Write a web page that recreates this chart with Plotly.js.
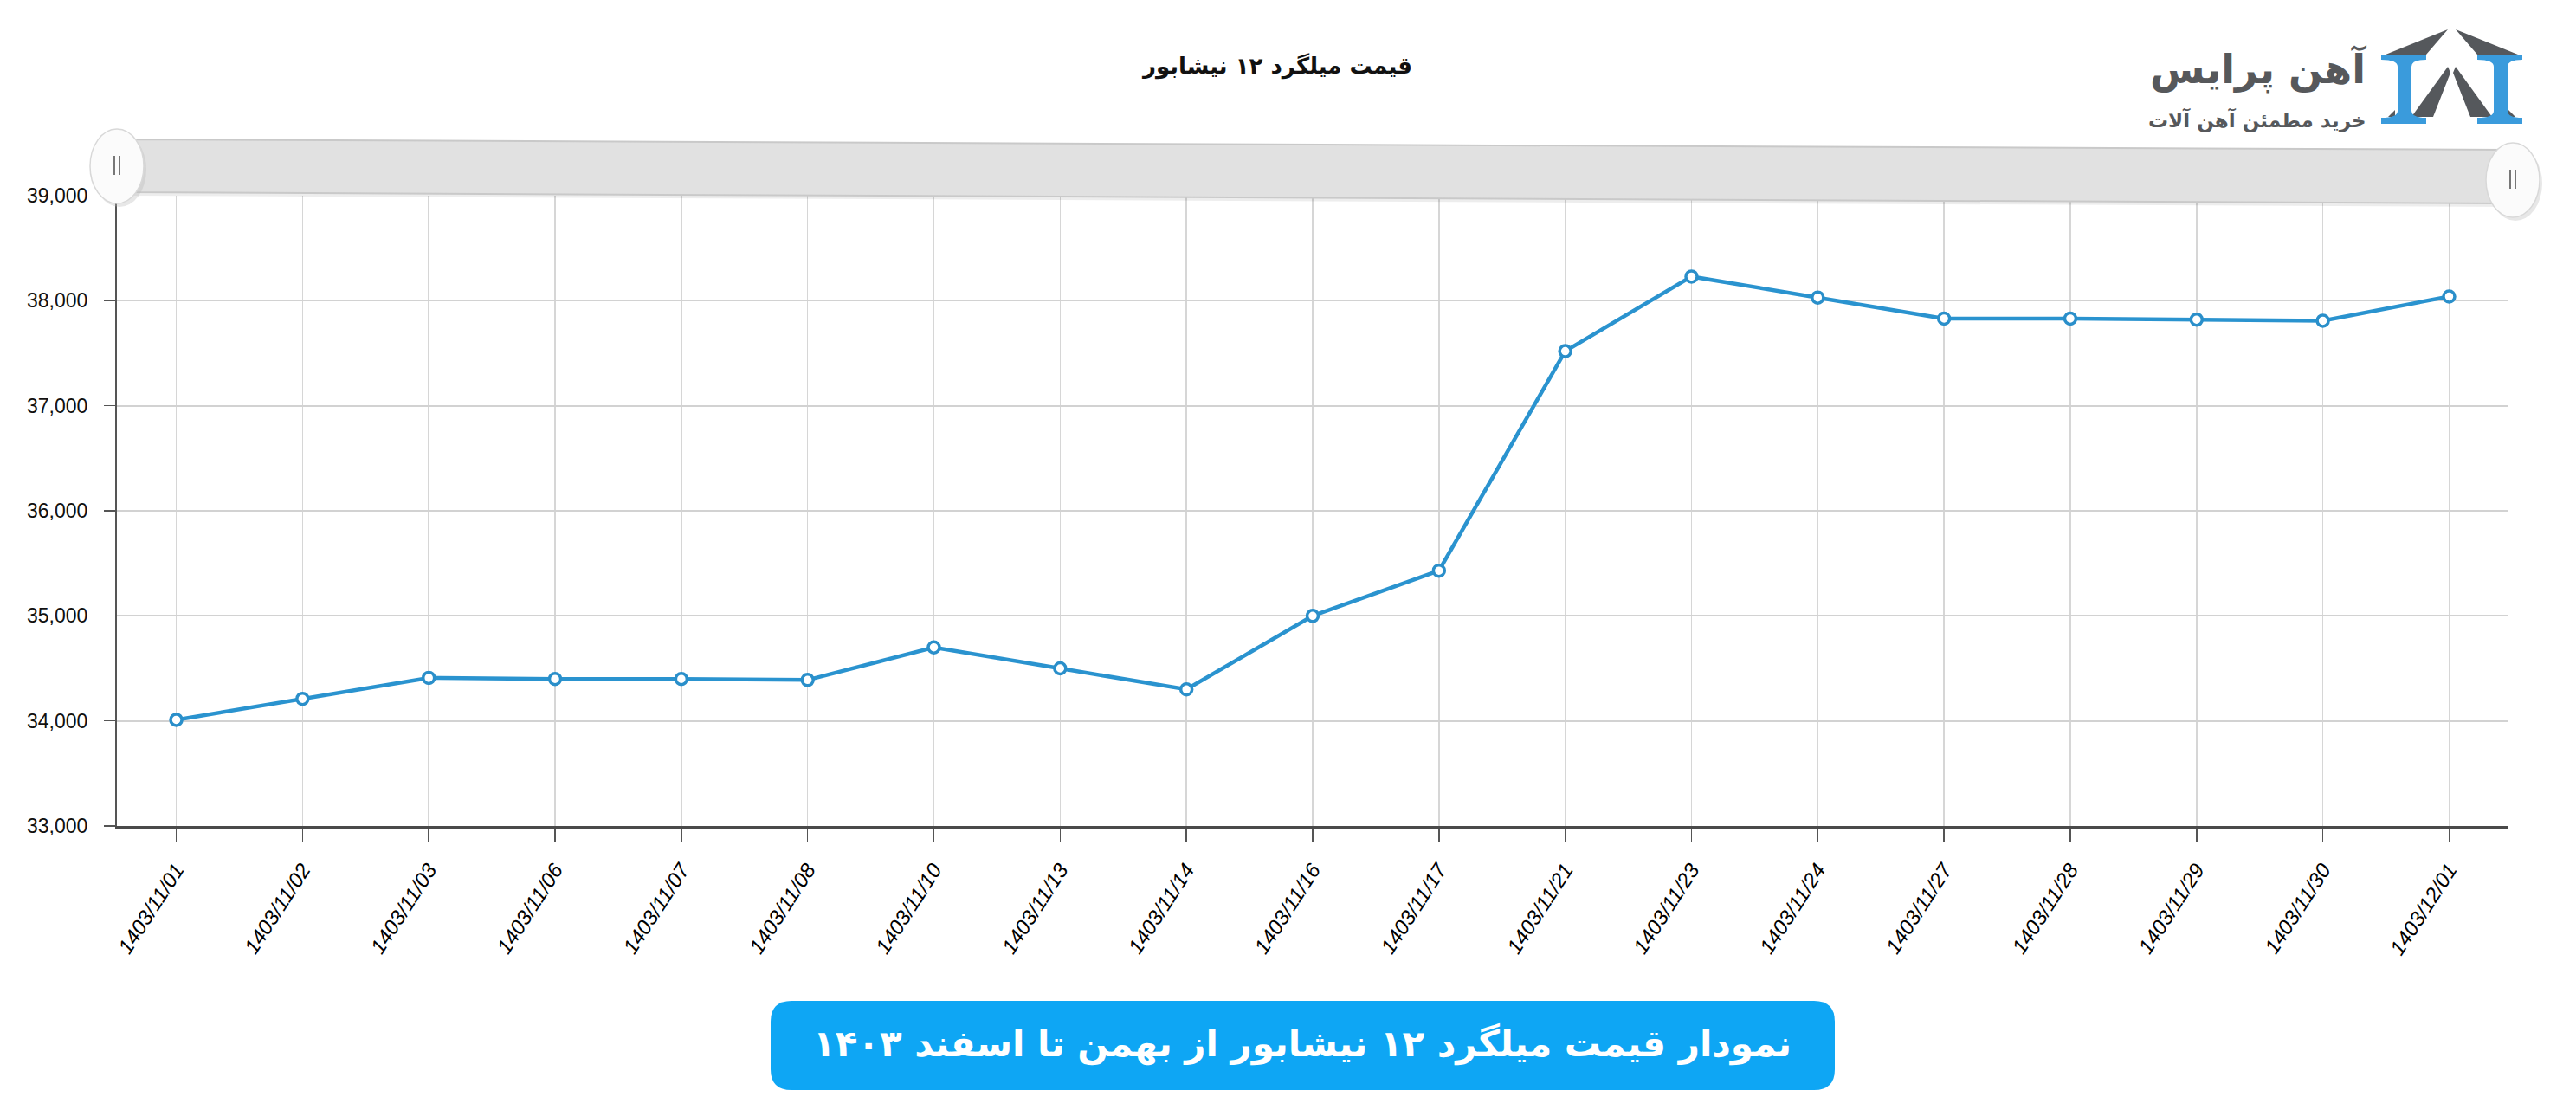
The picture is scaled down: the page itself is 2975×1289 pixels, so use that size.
<!DOCTYPE html>
<html>
<head>
<meta charset="utf-8">
<script src="https://cdn.plot.ly/plotly-3.0.1.min.js"></script>
<style>
html,body{margin:0;padding:0;background:#fff;}
#chart{width:2975px;height:1289px;}
</style>
</head>
<body>
<div id="chart"></div>
<script>
// ---- data ----
const dates = ['1403/11/01','1403/11/02','1403/11/03','1403/11/06','1403/11/07','1403/11/08','1403/11/10','1403/11/13','1403/11/14','1403/11/16','1403/11/17','1403/11/21','1403/11/23','1403/11/24','1403/11/27','1403/11/28','1403/11/29','1403/11/30','1403/12/01'];
const prices = [34010, 34210, 34410, 34400, 34400, 34390, 34700, 34500, 34300, 35000, 35430, 37520, 38230, 38030, 37830, 37830, 37820, 37810, 38040];
const yTicks = [33000, 34000, 35000, 36000, 37000, 38000, 39000];

const chartTitle = 'قیمت میلگرد ۱۲ نیشابور';
const bannerText = 'نمودار قیمت میلگرد ۱۲ نیشابور از بهمن تا اسفند ۱۴۰۳';
const brandName = 'آهن پرایس';
const brandSlogan = 'خرید مطمئن آهن آلات';

// ---- layout geometry (pixels) ----
const WIDTH = 2975, HEIGHT = 1289;
const M = {l: 135, r: 78, t: 226, b: 335};
const PW = WIDTH - M.l - M.r, PH = HEIGHT - M.t - M.b;
const px = x => (x - M.l) / PW;
const py = y => 1 - (y - M.t) / PH;
function path(points) {
  return points.map((p, i) => (i ? 'L' : 'M') + px(p[0]).toFixed(5) + ',' + py(p[1]).toFixed(5)).join(' ') + ' Z';
}
function ellipse(cx, cy, rx, ry, fill, line, lw, opacity) {
  return {type: 'circle', xref: 'paper', yref: 'paper', x0: px(cx - rx), x1: px(cx + rx), y0: py(cy + ry), y1: py(cy - ry),
    fillcolor: fill, line: {color: line, width: lw}, opacity: opacity === undefined ? 1 : opacity, layer: 'above'};
}
function seg(x0, y0, x1, y1, color, w) {
  return {type: 'line', xref: 'paper', yref: 'paper', x0: px(x0), y0: py(y0), x1: px(x1), y1: py(y1), line: {color: color, width: w}, layer: 'above'};
}
function roundRect(x0, y0, x1, y1, r) {
  const P = (x, y) => px(x).toFixed(5) + ',' + py(y).toFixed(5);
  return 'M' + P(x0 + r, y0) + ' L' + P(x1 - r, y0) + ' Q' + P(x1, y0) + ' ' + P(x1, y0 + r) +
    ' L' + P(x1, y1 - r) + ' Q' + P(x1, y1) + ' ' + P(x1 - r, y1) +
    ' L' + P(x0 + r, y1) + ' Q' + P(x0, y1) + ' ' + P(x0, y1 - r) +
    ' L' + P(x0, y0 + r) + ' Q' + P(x0, y0) + ' ' + P(x0 + r, y0) + ' Z';
}
function ibeam(xl) {
  const P = (x, y) => px(x).toFixed(5) + ',' + py(y).toFixed(5);
  const a = xl, b = xl + 52, wl = xl + 19, wr = xl + 35;
  return 'M' + P(a, 63) + ' L' + P(b, 63) + ' L' + P(b, 69) + ' Q' + P(wr, 69) + ' ' + P(wr, 77) +
    ' L' + P(wr, 128) + ' Q' + P(wr, 136) + ' ' + P(b, 136) + ' L' + P(b, 143) + ' L' + P(a, 143) +
    ' L' + P(a, 136) + ' Q' + P(wl, 136) + ' ' + P(wl, 128) + ' L' + P(wl, 77) + ' Q' + P(wl, 69) + ' ' + P(a, 69) + ' Z';
}

const trace = {
  type: 'scatter', mode: 'lines+markers',
  x: dates, y: prices,
  line: {color: '#2a93cf', width: 4.5},
  marker: {symbol: 'circle', size: 13, color: '#ffffff', line: {color: '#2a8fca', width: 3.5}},
  cliponaxis: false, hoverinfo: 'x+y'
};

const gray = '#55585c', blue = '#3a9bdc';
const shapes = [
  // slider bar
  {type: 'path', xref: 'paper', yref: 'paper', path: path([[150, 165], [2893, 177], [2893, 239], [150, 226]]), fillcolor: 'rgba(0,0,0,0.07)', line: {width: 0}, layer: 'above'},
  {type: 'path', xref: 'paper', yref: 'paper', path: path([[150, 161], [2893, 173], [2893, 235], [150, 222]]), fillcolor: '#e1e1e1', line: {color: '#c9c9c9', width: 2}, layer: 'above'},
  // handles
  ellipse(138, 196, 31, 43, '#bbbbbb', '#bbbbbb', 0, 0.35),
  ellipse(135, 192, 31, 43, '#fbfbfb', '#d8d8d8', 1.5),
  seg(132, 180, 132, 202, '#777', 2), seg(138, 180, 138, 202, '#777', 2),
  ellipse(2905, 212, 31, 43, '#bbbbbb', '#bbbbbb', 0, 0.35),
  ellipse(2902, 208, 31, 43, '#fbfbfb', '#d8d8d8', 1.5),
  seg(2899, 196, 2899, 218, '#777', 2), seg(2905, 196, 2905, 218, '#777', 2),
  // logo roof and inner pieces
  {type: 'path', xref: 'paper', yref: 'paper', path: path([[2755, 63], [2827, 34], [2802, 63]]), fillcolor: gray, line: {width: 0}, layer: 'above'},
  {type: 'path', xref: 'paper', yref: 'paper', path: path([[2908, 63], [2836, 34], [2861, 63]]), fillcolor: gray, line: {width: 0}, layer: 'above'},
  {type: 'path', xref: 'paper', yref: 'paper', path: path([[2785, 135], [2827, 77], [2830, 84], [2810, 135]]), fillcolor: gray, line: {width: 0}, layer: 'above'},
  {type: 'path', xref: 'paper', yref: 'paper', path: path([[2878, 135], [2836, 77], [2833, 84], [2853, 135]]), fillcolor: gray, line: {width: 0}, layer: 'above'},
  {type: 'path', xref: 'paper', yref: 'paper', path: path([[2758, 135], [2766, 127], [2766, 135]]), fillcolor: gray, line: {width: 0}, layer: 'above'},
  {type: 'path', xref: 'paper', yref: 'paper', path: path([[2905, 135], [2897, 127], [2897, 135]]), fillcolor: gray, line: {width: 0}, layer: 'above'},
  // logo I-beams
  {type: 'path', xref: 'paper', yref: 'paper', path: ibeam(2750), fillcolor: blue, line: {width: 0}, layer: 'above'},
  {type: 'path', xref: 'paper', yref: 'paper', path: ibeam(2861), fillcolor: blue, line: {width: 0}, layer: 'above'},
  // bottom banner
  {type: 'path', xref: 'paper', yref: 'paper', path: roundRect(890, 1156, 2119, 1259, 24), fillcolor: '#0ea6f4', line: {width: 0}, layer: 'above'}
];

const annotations = [
  {xref: 'paper', yref: 'paper', x: px(1474), y: py(76), xanchor: 'center', yanchor: 'middle', showarrow: false,
    text: '<b>' + chartTitle + '</b>', font: {family: 'DejaVu Sans', size: 26, color: '#111'}},
  {xref: 'paper', yref: 'paper', x: px(1504), y: py(1206), xanchor: 'center', yanchor: 'middle', showarrow: false,
    text: '<b>' + bannerText + '</b>', font: {family: 'DejaVu Sans', size: 42, color: '#ffffff'}},
  {xref: 'paper', yref: 'paper', x: px(2735), y: py(80), xanchor: 'right', yanchor: 'middle', showarrow: false,
    text: '<b>' + brandName + '</b>', font: {family: 'DejaVu Sans', size: 46, color: '#56585b'}},
  {xref: 'paper', yref: 'paper', x: px(2735), y: py(138), xanchor: 'right', yanchor: 'middle', showarrow: false,
    text: '<b>' + brandSlogan + '</b>', font: {family: 'DejaVu Sans', size: 23, color: '#56585b'}}
];

const layout = {
  width: WIDTH, height: HEIGHT,
  margin: M,
  paper_bgcolor: '#ffffff', plot_bgcolor: '#ffffff',
  showlegend: false,
  xaxis: {
    type: 'category', range: [-0.47, 18.47],
    showgrid: true, gridcolor: '#d6d6d6', gridwidth: 1.5,
    showline: true, linecolor: '#4a4a4a', linewidth: 3,
    ticks: 'outside', ticklen: 16, tickcolor: '#555', tickwidth: 1.5,
    tickangle: -57, ticklabelstandoff: 8,
    tickfont: {family: 'Liberation Sans', size: 24, color: '#000', style: 'italic'},
    zeroline: false
  },
  yaxis: {
    range: [33000, 39000], tickvals: yTicks, tickformat: ',d',
    showgrid: true, gridcolor: '#d2d2d2', gridwidth: 2,
    showline: true, linecolor: '#555', linewidth: 2,
    ticks: 'outside', ticklen: 13, tickcolor: '#555', tickwidth: 1.5,
    ticklabelstandoff: 14,
    tickfont: {family: 'Liberation Sans', size: 23, color: '#111'},
    zeroline: false
  },
  shapes: shapes,
  annotations: annotations
};

Plotly.newPlot('chart', [trace], layout, {displayModeBar: false, staticPlot: true});
</script>
</body>
</html>
